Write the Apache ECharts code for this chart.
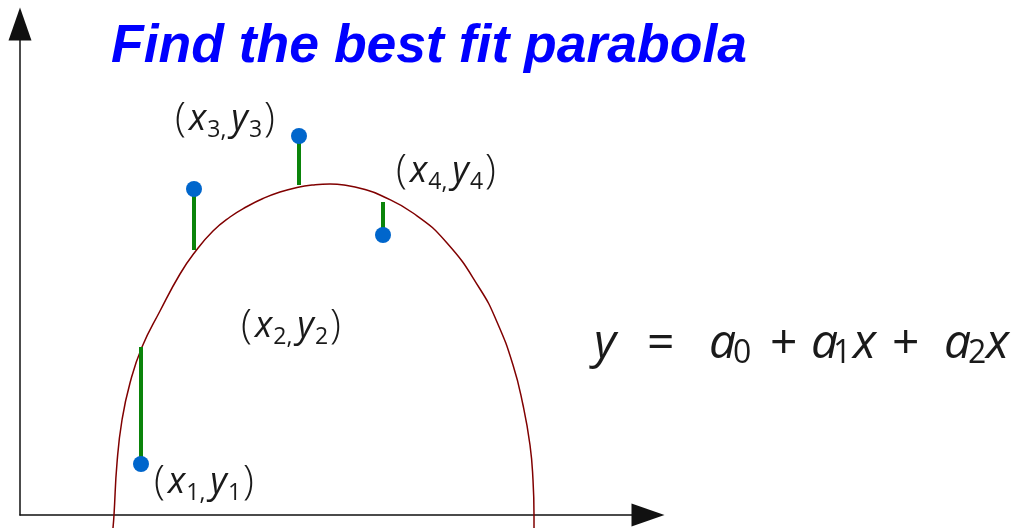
<!DOCTYPE html>
<html>
<head>
<meta charset="utf-8">
<script src="https://cdn.jsdelivr.net/npm/echarts@6/dist/echarts.min.js"></script>
<style>
  html, body { margin: 0; padding: 0; background: #fff; }
  #chart { width: 1019px; height: 528px; }
</style>
</head>
<body>
<div id="chart"></div>
<script>
// fitted curve (x, y in chart units)
const curveX = [93, 94, 97, 102, 110, 122, 140, 160, 175, 193, 210, 227, 243, 260, 277, 293, 310, 327, 343, 360, 393, 427, 460, 477, 493, 503, 510, 513, 514, 514]
const curveY = [-13, 0, 52, 95, 132, 168, 204, 241, 263, 284, 298, 308.5, 316.5, 323, 327.5, 330, 331, 329.5, 326, 320, 302, 272, 226, 193, 150, 110, 70, 35, 0, -13]

// measured points and where their residual meets the curve
const pointX = [121, 174, 279, 363]
const pointY = [51, 326, 379, 280]
const residualEnd = [168, 265, 330, 313]

// point labels
const labelIdx = ['1', '2', '3', '4']
const labelX = [184, 271, 205, 426]
const labelY = [32, 188, 395, 343]

const chart = echarts.init(document.getElementById('chart'))

const mathFont = '"Open Sans", "Noto Sans", sans-serif'
const ink = '#1a1a1a'

const curveData = curveX.map((x, i) => [x, curveY[i]])
const pointData = pointX.map((x, i) => [x, pointY[i]])
const residualData = pointX.map((x, i) => [x, pointY[i], residualEnd[i]])
const labelData = labelX.map((x, i) => [x, labelY[i], labelIdx[i]])

const eqText = '{y|y}{eq|=}{a0|a}{s0|0}{p1|+}{a1|a}{s1|1}{x1|x}{p2|+}{a2|a}{s2|2}{x2|x}'

function eqVar(w) {
    return {
        fontFamily: mathFont,
        fontStyle: 'italic',
        fontWeight: 'normal',
        fontSize: 48,
        color: ink,
        width: w
    }
}

function eqOp(w) {
    return {
        fontFamily: mathFont,
        fontWeight: 'normal',
        fontSize: 48,
        color: ink,
        width: w
    }
}

function eqSub(w) {
    return {
        fontFamily: mathFont,
        fontWeight: 'normal',
        fontSize: 32,
        color: ink,
        width: w,
        padding: [20, 0, 0, 0]
    }
}

const option = {
    animation: false,
    grid: {
        left: 20,
        top: 24,
        right: 371,
        bottom: 13
    },
    title: [{
            text: 'Find the best fit parabola',
            left: 106,
            top: 16,
            textStyle: {
                fontFamily: '"Liberation Sans", Arial, sans-serif',
                fontStyle: 'italic',
                fontWeight: 'bold',
                fontSize: 53.5,
                color: '#0000ff'
            }
        },
        {
            text: eqText,
            left: 589,
            top: 313,
            textStyle: {
                fontWeight: 'normal',
                rich: {
                    y: eqVar(53),
                    eq: eqOp(62),
                    a0: eqVar(24),
                    s0: eqSub(37),
                    p1: eqOp(41),
                    a1: eqVar(22),
                    s1: eqSub(20),
                    x1: eqVar(39),
                    p2: eqOp(52),
                    a2: eqVar(24),
                    s2: eqSub(18),
                    x2: eqVar(40)
                }
            }
        }
    ],
    xAxis: {
        type: 'value',
        min: 0,
        max: 628,
        axisLine: {
            show: true,
            symbol: ['none', 'triangle'],
            symbolSize: [23, 33],
            lineStyle: {
                color: '#111',
                width: 1.5
            }
        },
        axisTick: { show: false },
        axisLabel: { show: false },
        splitLine: { show: false }
    },
    yAxis: {
        type: 'value',
        min: 0,
        max: 491,
        axisLine: {
            show: true,
            symbol: ['none', 'triangle'],
            symbolSize: [23, 33],
            lineStyle: {
                color: '#111',
                width: 1.5
            }
        },
        axisTick: { show: false },
        axisLabel: { show: false },
        splitLine: { show: false }
    },
    series: [{
            name: 'curve',
            type: 'line',
            data: curveData,
            smooth: 0.5,
            showSymbol: false,
            clip: false,
            lineStyle: {
                color: '#800000',
                width: 1.5
            },
            z: 2
        },
        {
            name: 'residuals',
            type: 'custom',
            data: residualData,
            clip: false,
            renderItem: function (params, api) {
                const p = api.coord([api.value(0), api.value(1)])
                const q = api.coord([api.value(0), api.value(2)])
                return {
                    type: 'line',
                    shape: { x1: p[0], y1: p[1], x2: q[0], y2: q[1] },
                    style: { stroke: '#0a840a', lineWidth: 4 }
                }
            },
            z: 3
        },
        {
            name: 'points',
            type: 'scatter',
            data: pointData,
            symbolSize: 16,
            itemStyle: {
                color: '#0066cc',
                opacity: 1
            },
            z: 4
        },
        {
            name: 'labels',
            type: 'scatter',
            data: labelData,
            symbolSize: 0,
            clip: false,
            itemStyle: {
                opacity: 1
            },
            label: {
                show: true,
                position: 'inside',
                color: ink,
                opacity: 1,
                formatter: function (p) {
                    const k = p.value[2]
                    return '{p|(}{v|x}{sub|' + k + ',}{v|y}{sub|' + k + '}{p|)}'
                },
                rich: {
                    p: {
                        fontFamily: mathFont,
                        fontWeight: 300,
                        fontSize: 40,
                        color: ink
                    },
                    v: {
                        fontFamily: mathFont,
                        fontStyle: 'italic',
                        fontSize: 36,
                        color: ink,
                        padding: [0, 1, 0, 3]
                    },
                    sub: {
                        fontFamily: mathFont,
                        fontSize: 23,
                        color: ink,
                        padding: [20, 2, 0, 0]
                    }
                }
            },
            z: 5
        }
    ]
}

chart.setOption(option)
</script>
</body>
</html>
